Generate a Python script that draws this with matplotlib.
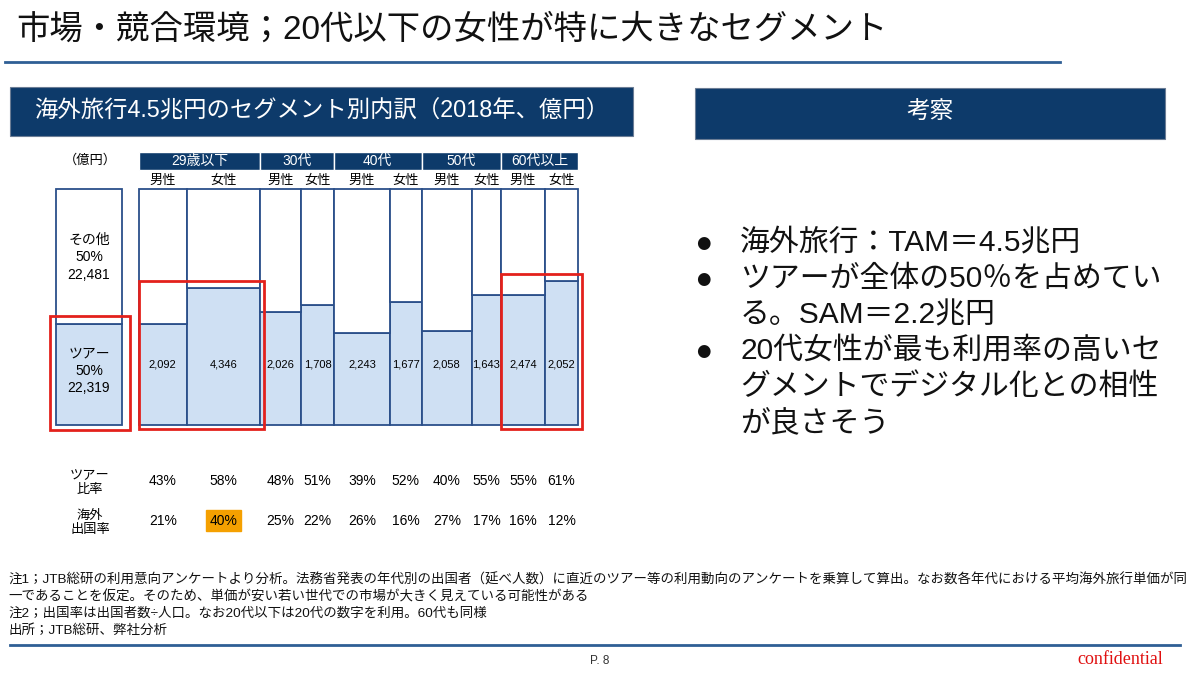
import matplotlib.pyplot as plt
from matplotlib.patches import Rectangle
import numpy as np

plt.rcParams['font.family'] = ['Liberation Sans', 'Noto Sans CJK JP', 'DejaVu Sans']

# data (億円, 2018)
groups = ['29歳以下', '30代', '40代', '50代', '60代以上']
genders = ['男性', '女性']
tour_value = [2092, 4346, 2026, 1708, 2243, 1677, 2058, 1643, 2474, 2052]
tour_ratio = [0.43, 0.58, 0.48, 0.51, 0.39, 0.52, 0.40, 0.55, 0.55, 0.61]
travel_rate = [0.21, 0.40, 0.25, 0.22, 0.26, 0.16, 0.27, 0.17, 0.16, 0.12]
total_other = 22481
total_tour = 22319
total_split_drawn = 0.43  # split line as drawn on the slide

NAVY = '#0d3a6a'
EDGE = '#2b4f8a'
FILL = '#cfe0f3'
RED = '#e3211c'

fig = plt.figure(figsize=(12, 6.76), dpi=100)
bg = fig.add_axes([0, 0, 1, 1])
bg.set_xlim(0, 1200)
bg.set_ylim(676, 0)
bg.axis('off')

# title + rules
bg.text(16, 30, '市場・競合環境；20代以下の女性が特に大きなセグメント', fontsize=24,
        va='center', ha='left', color='#111111')
bg.plot([5, 1060], [62, 62], color='#2f5f95', lw=2)
bg.plot([10, 1180], [645, 645], color='#2f5f95', lw=2)

bg.add_patch(Rectangle((10, 87), 623, 49, facecolor=NAVY, edgecolor='#6b7d95', lw=0.8))
bg.text(34, 111, '海外旅行4.5兆円のセグメント別内訳（2018年、億円）', color='white',
        fontsize=16.8, va='center', ha='left')
bg.add_patch(Rectangle((695, 88), 470, 51, facecolor=NAVY, edgecolor='#6b7d95', lw=0.8))
bg.text(930, 113, '考察', color='white', fontsize=17, va='center', ha='center')

# bullets
bullet_lines = [
    (True, '海外旅行：TAM＝4.5兆円'),
    (True, 'ツアーが全体の50％を占めてい'),
    (False, 'る。SAM＝2.2兆円'),
    (True, '20代女性が最も利用率の高いセ'),
    (False, 'グメントでデジタル化との相性'),
    (False, 'が良さそう'),
]
for i, (has_bullet, line) in enumerate(bullet_lines):
    y = 243 + i * 36
    if has_bullet:
        bg.text(703, y, '●', fontsize=12, va='center', ha='center', color='#111111',
                family='DejaVu Sans')
    bg.text(740, y, line, fontsize=21.5, va='center', ha='left', color='#111111')

# notes
notes = [
    '注1；JTB総研の利用意向アンケートより分析。法務省発表の年代別の出国者（延べ人数）に直近のツアー等の利用動向のアンケートを乗算して算出。なお数各年代における平均海外旅行単価が同',
    '一であることを仮定。そのため、単価が安い若い世代での市場が大きく見えている可能性がある',
    '注2；出国率は出国者数÷人口。なお20代以下は20代の数字を利用。60代も同様',
    '出所；JTB総研、弊社分析',
]
for i, n in enumerate(notes):
    bg.text(8, 580 + i * 17, n, fontsize=9.7, va='center', ha='left', color='#111111')
bg.text(600, 661, 'P. 8', fontsize=8.5, va='center', ha='center', color='#333333')
bg.text(1163, 659, 'confidential', fontsize=13, va='center', ha='right', color='#e01010',
        family='Liberation Serif')

# row labels
bg.text(90, 160, '（億円）', fontsize=9.5, va='center', ha='center')
bg.text(90, 483, 'ツアー\n比率', fontsize=9.5, va='center', ha='center', linespacing=1.15)
bg.text(90, 523, '海外\n出国率', fontsize=9.5, va='center', ha='center', linespacing=1.15)

# left total bar
y0, y1 = 425, 189
axl = fig.add_axes([56 / 1200, 1 - y0 / 676, 66 / 1200, (y0 - y1) / 676])
axl.set_xlim(0, 1)
axl.set_ylim(0, 1)
axl.axis('off')
axl.bar(0, total_split_drawn, width=1, align='edge', color=FILL, edgecolor=EDGE, lw=1.3,
        clip_on=False)
axl.bar(0, 1 - total_split_drawn, bottom=total_split_drawn, width=1, align='edge',
        color='white', edgecolor=EDGE, lw=1.3, clip_on=False)
total_all = total_other + total_tour
axl.text(0.5, 0.71, f'その他\n{total_other / total_all:.0%}\n{total_other:,}', ha='center',
         va='center', fontsize=10, linespacing=1.3)
axl.text(0.5, 0.23, f'ツアー\n{total_tour / total_all:.0%}\n{total_tour:,}', ha='center',
         va='center', fontsize=10, linespacing=1.3)
axl.add_patch(Rectangle((-0.09, -0.02), 1.21, total_split_drawn + 0.05, fill=False,
                        edgecolor=RED, lw=2, clip_on=False))

# marimekko
widths = np.array(tour_value) / np.array(tour_ratio)
lefts = np.concatenate([[0], np.cumsum(widths)[:-1]])
centers = lefts + widths / 2
ratio = np.array(tour_ratio)

ax = fig.add_axes([139 / 1200, 1 - y0 / 676, (578 - 139) / 1200, (y0 - y1) / 676])
ax.set_xlim(0, widths.sum())
ax.set_ylim(0, 1)
ax.axis('off')
ax.bar(lefts, ratio, width=widths, align='edge', color=FILL, edgecolor=EDGE, lw=1.3,
       clip_on=False)
ax.bar(lefts, 1 - ratio, bottom=ratio, width=widths, align='edge', color='white',
       edgecolor=EDGE, lw=1.3, clip_on=False)

for c, v in zip(centers, tour_value):
    ax.text(c, 0.255, f'{v:,}', ha='center', va='center', fontsize=8)

# header
for g in range(len(groups)):
    gl = lefts[2 * g]
    gw = widths[2 * g] + widths[2 * g + 1]
    ax.add_patch(Rectangle((gl, 1.08), gw, 0.076, facecolor=NAVY, edgecolor='white',
                           lw=1, clip_on=False))
    ax.text(gl + gw / 2, 1.118, groups[g], color='white', ha='center', va='center',
            fontsize=10)
for i, c in enumerate(centers):
    ax.text(c, 1.035, genders[i % 2], ha='center', va='center', fontsize=9.5)

# rows below
for i, c in enumerate(centers):
    ax.text(c, -0.236, f'{tour_ratio[i]:.0%}', ha='center', va='center', fontsize=10)
    kw = {}
    if travel_rate[i] == max(travel_rate):
        kw['bbox'] = dict(boxstyle='square,pad=0.25', facecolor='#f5a000', edgecolor='#f5a000')
    ax.text(c, -0.405, f'{travel_rate[i]:.0%}', ha='center', va='center', fontsize=10, **kw)

# highlight boxes
pad_x = widths.sum() * 0.009
for g in (0, 4):
    gl = lefts[2 * g]
    gw = widths[2 * g] + widths[2 * g + 1]
    top = max(ratio[2 * g], ratio[2 * g + 1]) + 0.03
    ax.add_patch(Rectangle((gl, -0.015), gw + pad_x, top + 0.015, fill=False,
                           edgecolor=RED, lw=2, clip_on=False))

fig.savefig('out.png', dpi=100)
